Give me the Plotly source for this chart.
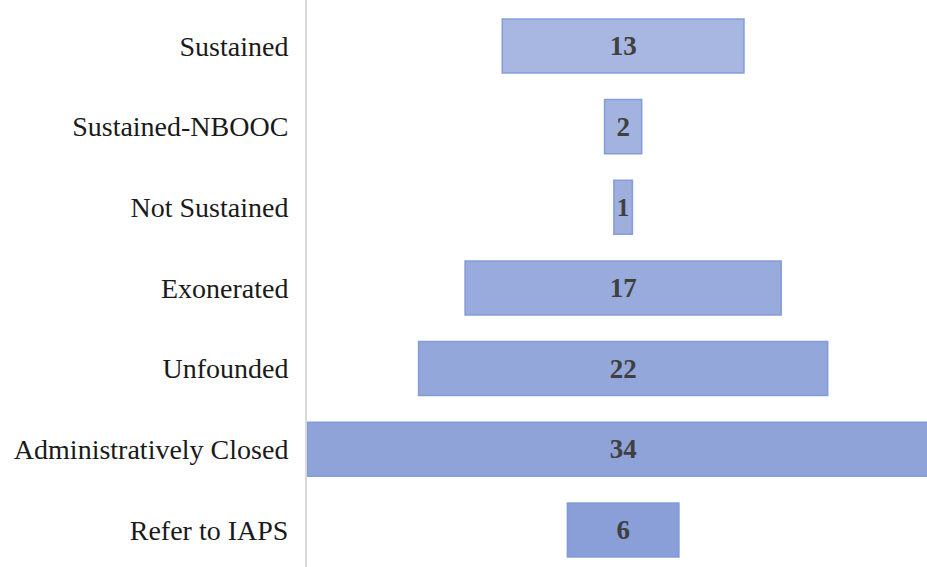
import plotly.graph_objects as go

categories = ['Sustained', 'Sustained-NBOOC', 'Not Sustained', 'Exonerated',
              'Unfounded', 'Administratively Closed', 'Refer to IAPS']
counts = [13, 2, 1, 17, 22, 34, 6]

# light-to-dark blue shading down the funnel
bar_colors = ['#a8b7e1', '#a3b3df', '#9eafdd', '#99abdc',
              '#94a7da', '#8fa3d9', '#8a9fd7']

fig = go.Figure(go.Funnel(
    y=categories,
    x=counts,
    textinfo='value',
    textposition='inside',
    textfont=dict(family='Liberation Serif', size=27, color='#404040'),
    texttemplate='<b>%{value}</b>',
    marker=dict(color=bar_colors,
                line=dict(color='rgba(125,150,218,0.9)', width=1.5)),
    connector=dict(visible=False),
    hoverinfo='y+x',
))

fig.update_layout(
    width=927,
    height=567,
    margin=dict(l=307, r=0, t=0, b=0),
    plot_bgcolor='white',
    paper_bgcolor='white',
    showlegend=False,
    funnelgap=0.33,
    xaxis=dict(range=[-17, 16.34], visible=False),
    yaxis=dict(
        range=[6.46, -0.57],
        showline=True,
        linecolor='#d9d9d9',
        linewidth=2,
        showgrid=False,
        ticks='',
        ticklabelstandoff=11,
        tickfont=dict(family='Liberation Serif', size=28, color='#1a1a1a'),
    ),
)

# drop the page's default body margin so the figure sits at the window edge
fig.write_html('out.html', config={'displayModeBar': False},
               post_script="document.body.style.margin='0';")
